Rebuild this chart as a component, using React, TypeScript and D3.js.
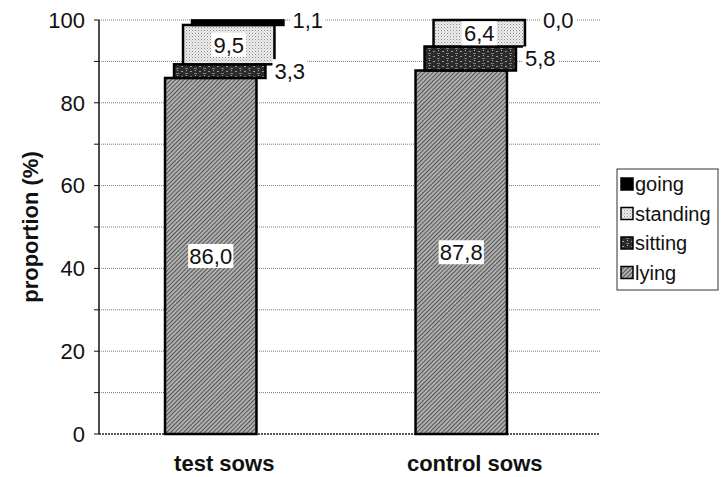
import React from "react";
import * as d3 from "d3";

const categories = ["test sows", "control sows"];
const series = ["lying", "sitting", "standing", "going"];
const lyingValues = [86.0, 87.8];
const sittingValues = [3.3, 5.8];
const standingValues = [9.5, 6.4];
const goingValues = [1.1, 0.0];
const yTicks = [0, 20, 40, 60, 80, 100];
const yMinor = [10, 20, 30, 40, 50, 60, 70, 80, 90, 100];
const legendOrder = ["going", "standing", "sitting", "lying"];
const labelInside = { lying: true, sitting: false, standing: true, going: false } as Record<string, boolean>;

const W = 721;
const H = 477;
const FONT = "'Liberation Sans', Arial, Helvetica, sans-serif";

const valuesBySeries: Record<string, number[]> = {
  lying: lyingValues,
  sitting: sittingValues,
  standing: standingValues,
  going: goingValues,
};

const fills: Record<string, string> = {
  lying: "url(#pLying)",
  sitting: "url(#pSitting)",
  standing: "url(#pStanding)",
  going: "#000",
};

const fmt = (v: number) => v.toFixed(1).replace(".", ",");

export default function App() {
  const x = d3.scaleBand<string>().domain(categories).range([99, 600]).paddingInner(0).paddingOuter(0);
  const y = d3.scaleLinear().domain([0, 100]).range([434, 20]);
  const off = d3.scalePoint<string>().domain(series).range([-13.5, 13.5]);
  const barW = x.bandwidth() * 0.365;

  const stack = d3
    .stack<any>()
    .keys(series)(categories.map((c, i) => {
      const row: any = { cat: c };
      series.forEach((s) => (row[s] = valuesBySeries[s][i]));
      return row;
    }));

  return (
    <svg width={W} height={H} style={{ position: "absolute", left: 0, top: 0, background: "#fff" }}>
      <defs>
        <pattern id="pLying" patternUnits="userSpaceOnUse" width="3" height="3" patternTransform="rotate(45)">
          <rect width="3" height="3" fill="#b0b0b0" />
          <line x1="0" y1="0" x2="0" y2="3" stroke="#222" strokeWidth="1.3" />
        </pattern>
        <pattern id="pSitting" patternUnits="userSpaceOnUse" width="9" height="5">
          <rect width="9" height="5" fill="#2b2b2b" />
          <rect x="1" y="1" width="2" height="1" fill="#9a9a9a" />
          <rect x="5" y="3" width="3" height="1" fill="#7a7a7a" />
          <rect x="6" y="0" width="1" height="1" fill="#bbb" />
        </pattern>
        <pattern id="pStanding" patternUnits="userSpaceOnUse" width="3" height="3">
          <rect width="3" height="3" fill="#eee" />
          <rect x="0" y="0" width="1" height="1" fill="#888" />
          <rect x="1.5" y="1.5" width="1" height="1" fill="#aaa" />
        </pattern>
      </defs>

      {/* gridlines */}
      {yMinor.map((t) => (
        <line key={"g" + t} x1={99} x2={600} y1={y(t)} y2={y(t)} stroke="#777" strokeWidth={1} strokeDasharray="1,1" />
      ))}
      {/* x axis */}
      <line x1={99} x2={600} y1={y(0)} y2={y(0)} stroke="#222" strokeWidth={1.5} strokeDasharray="2,1" />
      {/* y axis */}
      <line x1={99} x2={99} y1={y(0)} y2={y(100)} stroke="#111" strokeWidth={1.5} />
      {[0, ...yMinor].map((t) => (
        <line key={"t" + t} x1={94} x2={99} y1={y(t)} y2={y(t)} stroke="#111" strokeWidth={1} />
      ))}
      {yTicks.map((t) => (
        <text key={"l" + t} x={85} y={y(t)} dy="0.35em" textAnchor="end" fontFamily={FONT} fontSize={22} fill="#111">
          {t}
        </text>
      ))}
      <text
        transform={`translate(38,${(y(0) + y(100)) / 2}) rotate(-90)`}
        textAnchor="middle"
        fontFamily={FONT}
        fontSize={22}
        fontWeight="bold"
        fill="#111"
      >
        proportion (%)
      </text>
      {categories.map((c) => (
        <text key={c} x={(x(c) as number) + x.bandwidth() / 2} y={471} textAnchor="middle" fontFamily={FONT} fontSize={22} fontWeight="bold" fill="#111">
          {c}
        </text>
      ))}

      {/* bars */}
      {stack.map((layer) =>
        layer.map((d, i) => {
          const s = layer.key;
          const c = categories[i];
          const h = y(d[0]) - y(d[1]);
          if (h <= 0.01) return null;
          const cx = (x(c) as number) + x.bandwidth() / 2 + (off(s) as number);
          return (
            <rect
              key={s + c}
              x={cx - barW / 2}
              y={y(d[1])}
              width={barW}
              height={h}
              fill={fills[s]}
              stroke="#000"
              strokeWidth={2.5}
            />
          );
        })
      )}

      {/* labels */}
      {stack.map((layer) =>
        layer.map((d, i) => {
          const s = layer.key;
          const c = categories[i];
          const v = valuesBySeries[s][i];
          const cx = (x(c) as number) + x.bandwidth() / 2 + (off(s) as number);
          const cy = (y(d[0]) + y(d[1])) / 2;
          const txt = fmt(v);
          const tw = txt.length * 10.3;
          if (labelInside[s]) {
            return (
              <g key={"lab" + s + c}>
                <rect x={cx - tw / 2 - 2} y={cy - 12} width={tw + 4} height={24} fill="#fff" />
                <text x={cx} y={cy} dy="0.36em" textAnchor="middle" fontFamily={FONT} fontSize={22} fill="#111">
                  {txt}
                </text>
              </g>
            );
          }
          const lx = cx + barW / 2 + 9;
          const ly = s === "going" ? y(d[1]) : cy;
          return (
            <g key={"lab" + s + c}>
              <rect x={lx - 2} y={ly - 12} width={tw + 4} height={24} fill="#fff" />
              <text x={lx} y={ly} dy="0.36em" textAnchor="start" fontFamily={FONT} fontSize={22} fill="#111">
                {txt}
              </text>
            </g>
          );
        })
      )}

      {/* legend */}
      <rect x={617} y={169} width={101} height={121} fill="#fff" stroke="#333" strokeWidth={1} />
      {legendOrder.map((s, i) => {
        const ly = 184 + i * 29.5;
        return (
          <g key={"lg" + s}>
            <rect x={621} y={ly - 6} width={12} height={12} fill={fills[s]} stroke="#000" strokeWidth={1.5} />
            <text x={635} y={ly} dy="0.36em" fontFamily={FONT} fontSize={20} fill="#111">
              {s}
            </text>
          </g>
        );
      })}
    </svg>
  );
}
